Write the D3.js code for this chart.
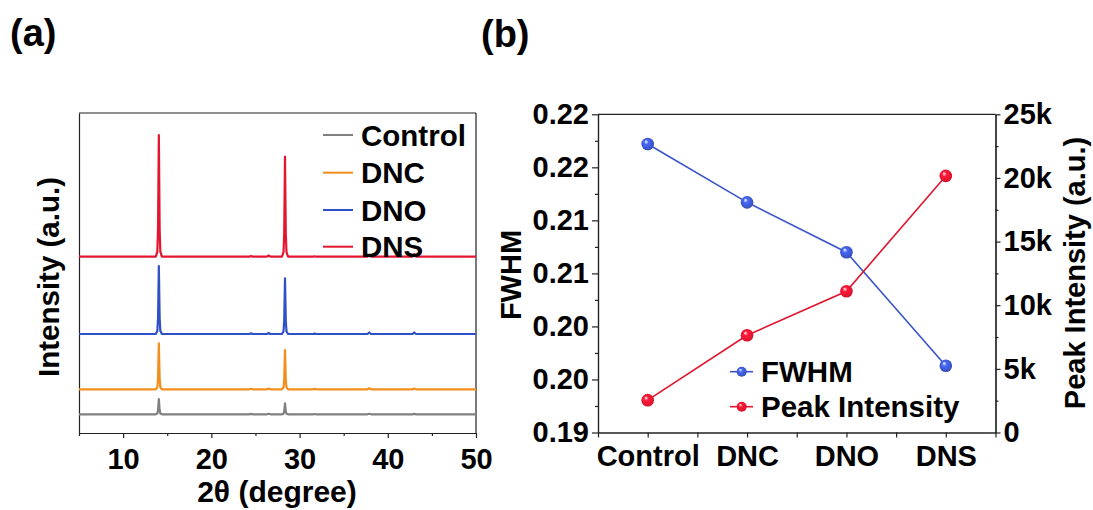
<!DOCTYPE html>
<html>
<head>
<meta charset="utf-8">
<script src="https://cdn.jsdelivr.net/npm/d3@7"></script>
<style>
  body { margin: 0; background: #fff; }
  svg { display: block; font-family: "Liberation Sans", Arial, sans-serif; font-weight: bold; }
  .axis path, .axis line { stroke: #222; stroke-width: 1.2; }
  .axis text { fill: #000; font-size: 29px; font-weight: bold; font-family: "Liberation Sans", Arial, sans-serif; }
</style>
</head>
<body>
<svg width="1093" height="510"></svg>
<script>
// ---- panel (a): XRD patterns, stacked ----
var xrdNames = ["Control", "DNC", "DNO", "DNS"];
var xrdColors = ["#808080", "#f38e1d", "#3050c8", "#e2172f"];
var xrdOffsets = [187, 437, 990, 1763];   // vertical offset of each trace (a.u.)
// trace vertices [2theta, intensity above own baseline]
var xrdControl = [[5,0],[13.7,0],[13.88,8],[13.96,40],[14.05,153],[14.14,40],[14.22,8],[14.4,0],[24.3,0],[24.5,4],[24.7,0],[26.3,0],[26.5,5],[26.7,0],
  [28.0,0],[28.18,6],[28.26,30],[28.35,110],[28.44,30],[28.52,6],[28.7,0],[31.5,0],[31.7,3],[31.9,0],[37.7,0],[37.9,5],[38.1,0],[42.8,0],[43.0,4],[43.2,0],[50,0]];
var xrdDNC = [[5,0],[13.7,0],[13.88,20],[13.96,110],[14.05,460],[14.14,110],[14.22,20],[14.4,0],[24.3,0],[24.5,5],[24.7,0],[26.3,0],[26.5,8],[26.7,0],
  [28.0,0],[28.18,18],[28.26,95],[28.35,393],[28.44,95],[28.52,18],[28.7,0],[31.5,0],[31.7,4],[31.9,0],[37.7,0],[37.9,10],[38.1,0],[42.8,0],[43.0,9],[43.2,0],[50,0]];
var xrdDNO = [[5,0],[13.7,0],[13.88,30],[13.96,160],[14.05,680],[14.14,160],[14.22,30],[14.4,0],[24.3,0],[24.5,6],[24.7,0],[26.3,0],[26.5,10],[26.7,0],
  [28.0,0],[28.18,25],[28.26,130],[28.35,557],[28.44,130],[28.52,25],[28.7,0],[31.5,0],[31.7,4],[31.9,0],[37.7,0],[37.9,15],[38.1,0],[42.8,0],[43.0,15],[43.2,0],[50,0]];
var xrdDNS = [[5,0],[13.7,0],[13.88,50],[13.96,280],[14.05,1217],[14.14,280],[14.22,50],[14.4,0],[24.3,0],[24.5,8],[24.7,0],[26.3,0],[26.5,12],[26.7,0],
  [28.0,0],[28.18,45],[28.26,230],[28.35,1000],[28.44,230],[28.52,45],[28.7,0],[31.5,0],[31.7,5],[31.9,0],[37.7,0],[37.9,15],[38.1,0],[42.8,0],[43.0,25],[43.2,0],[50,0]];
var xrdTraces = [xrdControl, xrdDNC, xrdDNO, xrdDNS];
var xrdTicks = [10, 20, 30, 40, 50];
var xrdMinor = [5, 15, 25, 35, 45];

// ---- panel (b): FWHM and peak intensity ----
var samples = ["Control", "DNC", "DNO", "DNS"];
var fwhm = [0.2172, 0.2117, 0.2070, 0.1963];
var peakIntensity = [2540, 7640, 11100, 20160];
var fwhmTicks = [0.22, 0.215, 0.21, 0.205, 0.20, 0.195, 0.19];
var fwhmTickLabels = ["0.22", "0.22", "0.21", "0.21", "0.20", "0.20", "0.19"];
var fwhmMinor = [0.2175, 0.2125, 0.2075, 0.2025, 0.1975, 0.1925];
var intTicks = [0, 5000, 10000, 15000, 20000, 25000];
var intTickLabels = ["0", "5k", "10k", "15k", "20k", "25k"];
var intMinor = [2500, 7500, 12500, 17500, 22500];
var blue = "#3a55c8", red = "#e2152f";

var svg = d3.select("svg");

// gradients for the ball markers
var defs = svg.append("defs");
function ball(id, c) {
  var g = defs.append("radialGradient").attr("id", id)
    .attr("cx", "0.5").attr("cy", "0.5").attr("r", "0.6").attr("fx", "0.35").attr("fy", "0.3");
  g.append("stop").attr("offset", "0%").attr("stop-color", "#ffffff");
  g.append("stop").attr("offset", "30%").attr("stop-color", d3.color(c).brighter(0.6));
  g.append("stop").attr("offset", "75%").attr("stop-color", c);
  g.append("stop").attr("offset", "100%").attr("stop-color", d3.color(c).darker(0.8));
}
ball("ballBlue", blue);
ball("ballRed", red);

// ================= panel (a) =================
var xA = d3.scaleLinear().domain([5, 50]).range([79, 476]),
    yA = d3.scaleLinear().domain([0, 3200]).range([433, 113]);

var a = svg.append("g");

a.append("g").attr("class", "axis")
  .attr("transform", "translate(0,433)")
  .call(d3.axisBottom(xA).tickValues(xrdMinor).tickSize(3).tickFormat("").tickSizeOuter(0));
a.append("g").attr("class", "axis")
  .attr("transform", "translate(0,433)")
  .call(d3.axisBottom(xA).tickValues(xrdTicks).tickSize(5).tickPadding(10).tickSizeOuter(0));
a.append("g").attr("class", "axis")
  .attr("transform", "translate(79,0)")
  .call(d3.axisLeft(yA).tickValues([]).tickSizeOuter(0));
a.append("line").attr("x1", 79).attr("x2", 476).attr("y1", 113).attr("y2", 113)
  .attr("stroke", "#222").attr("stroke-width", 1.2);
a.append("line").attr("x1", 476).attr("x2", 476).attr("y1", 113).attr("y2", 433)
  .attr("stroke", "#222").attr("stroke-width", 1.2);

xrdTraces.forEach(function(tr, i) {
  var line = d3.line()
    .x(function(d) { return xA(d[0]); })
    .y(function(d) { return yA(d[1] + xrdOffsets[i]); });
  a.append("path")
    .attr("d", line(tr))
    .attr("fill", "none")
    .attr("stroke", xrdColors[i])
    .attr("stroke-width", 2.2)
    .attr("stroke-linejoin", "round");
});

// legend (a)
var legA = a.append("g");
var legRows = [135, 172.7, 210, 246.7];
xrdNames.forEach(function(n, i) {
  legA.append("line").attr("x1", 323).attr("x2", 353).attr("y1", legRows[i]).attr("y2", legRows[i])
    .attr("stroke", xrdColors[i]).attr("stroke-width", 2);
  legA.append("text").attr("x", 361).attr("y", legRows[i]).attr("dy", "0.36em")
    .style("font-size", "29.5px").text(n);
});

a.append("text").attr("x", 277).attr("y", 502).attr("text-anchor", "middle")
  .style("font-size", "30px").text("2θ (degree)");
a.append("text").attr("transform", "translate(59,277) rotate(-90)").attr("text-anchor", "middle")
  .style("font-size", "29.5px").text("Intensity (a.u.)");
svg.append("text").attr("x", 10).attr("y", 46).style("font-size", "38px").text("(a)");

// ================= panel (b) =================
var xB = d3.scaleLinear().domain([0.5, 4.5]).range([598, 995.5]),
    yL = d3.scaleLinear().domain([0.19, 0.22]).range([432.5, 114.3]),
    yR = d3.scaleLinear().domain([0, 25000]).range([432.5, 114.3]);

var b = svg.append("g");

b.append("g").attr("class", "axis").attr("transform", "translate(0,432.5)")
  .call(d3.axisBottom(xB).tickValues([0.5, 1.5, 2.5, 3.5, 4.5]).tickSize(5).tickFormat("").tickSizeOuter(0));
b.append("g").attr("class", "axis").attr("transform", "translate(0,432.5)")
  .call(d3.axisBottom(xB).tickValues([1, 2, 3, 4]).tickSize(5).tickPadding(8)
    .tickFormat(function(d) { return samples[d - 1]; }).tickSizeOuter(0));

b.append("g").attr("class", "axis").attr("transform", "translate(598,0)")
  .call(d3.axisLeft(yL).tickValues(fwhmMinor).tickSize(3).tickFormat("").tickSizeOuter(0));
b.append("g").attr("class", "axis").attr("transform", "translate(598,0)")
  .call(d3.axisLeft(yL).tickValues(fwhmTicks).tickSize(6).tickPadding(3)
    .tickFormat(function(d, i) { return fwhmTickLabels[i]; }).tickSizeOuter(0));

b.append("g").attr("class", "axis").attr("transform", "translate(995.5,0)")
  .call(d3.axisRight(yR).tickValues(intMinor).tickSize(3).tickFormat("").tickSizeOuter(0));
b.append("g").attr("class", "axis").attr("transform", "translate(995.5,0)")
  .call(d3.axisRight(yR).tickValues(intTicks).tickSize(5).tickPadding(3)
    .tickFormat(function(d, i) { return intTickLabels[i]; }).tickSizeOuter(0));

b.append("line").attr("x1", 598).attr("x2", 995.5).attr("y1", 114.3).attr("y2", 114.3)
  .attr("stroke", "#222").attr("stroke-width", 1.2);

var lineL = d3.line().x(function(d, i) { return xB(i + 1); }).y(function(d) { return yL(d); });
var lineR = d3.line().x(function(d, i) { return xB(i + 1); }).y(function(d) { return yR(d); });

b.append("path").attr("d", lineL(fwhm)).attr("fill", "none").attr("stroke", blue).attr("stroke-width", 1.6);
b.append("path").attr("d", lineR(peakIntensity)).attr("fill", "none").attr("stroke", red).attr("stroke-width", 1.6);

b.selectAll(".dotL").data(fwhm).enter().append("circle")
  .attr("cx", function(d, i) { return xB(i + 1); })
  .attr("cy", function(d) { return yL(d); })
  .attr("r", 6.3).attr("fill", "url(#ballBlue)");
b.selectAll(".dotR").data(peakIntensity).enter().append("circle")
  .attr("cx", function(d, i) { return xB(i + 1); })
  .attr("cy", function(d) { return yR(d); })
  .attr("r", 6.3).attr("fill", "url(#ballRed)");

// legend (b)
var legB = [["FWHM", blue, "url(#ballBlue)", 371.7], ["Peak Intensity", red, "url(#ballRed)", 406.7]];
legB.forEach(function(l) {
  b.append("line").attr("x1", 730).attr("x2", 753).attr("y1", l[3]).attr("y2", l[3])
    .attr("stroke", l[1]).attr("stroke-width", 1.6);
  b.append("circle").attr("cx", 741.7).attr("cy", l[3]).attr("r", 5).attr("fill", l[2]);
  b.append("text").attr("x", 761).attr("y", l[3]).attr("dy", "0.36em")
    .style("font-size", "29.5px").text(l[0]);
});

b.append("text").attr("transform", "translate(521,275) rotate(-90)").attr("text-anchor", "middle")
  .style("font-size", "29px").text("FWHM");
b.append("text").attr("transform", "translate(1085,273) rotate(-90)").attr("text-anchor", "middle")
  .style("font-size", "29px").text("Peak Intensity (a.u.)");
svg.append("text").attr("x", 481).attr("y", 47).style("font-size", "38px").text("(b)");
</script>
</body>
</html>
